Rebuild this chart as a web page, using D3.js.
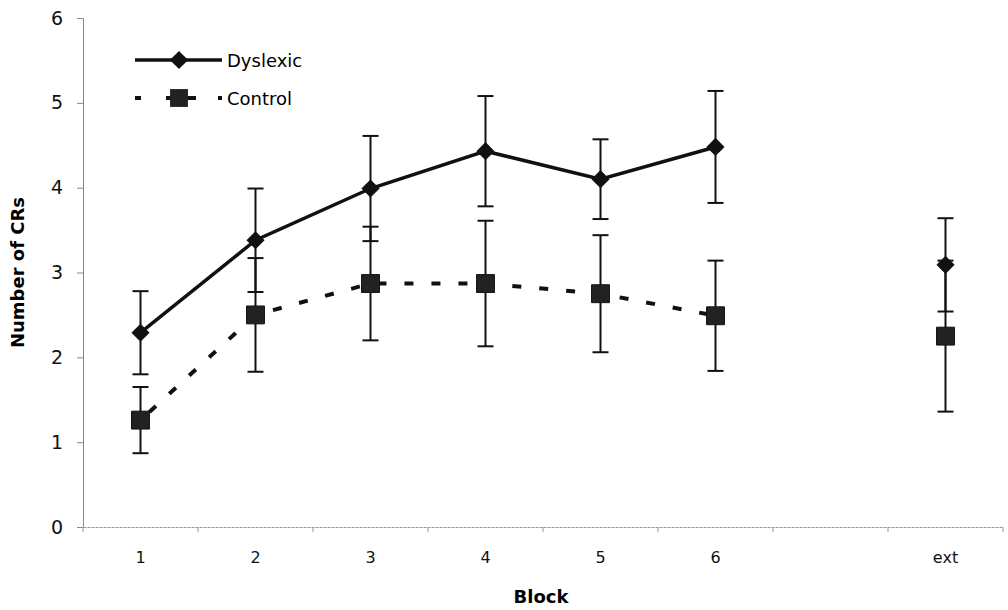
<!DOCTYPE html>
<html><head><meta charset="utf-8">
<script src="https://cdn.jsdelivr.net/npm/d3@7"></script>
<style>body{margin:0;background:#fff}svg{display:block}</style>
</head><body>
<script>
const categories = ["1","2","3","4","5","6","","ext"];
const dyslexicMean = [2.29, 3.38, 3.99, 4.43, 4.10, 4.48, null, 3.09];
const dyslexicErr  = [0.49, 0.61, 0.62, 0.65, 0.47, 0.66, null, 0.55];
const controlMean  = [1.26, 2.50, 2.87, 2.87, 2.75, 2.49, null, 2.25];
const controlErr   = [0.39, 0.67, 0.67, 0.74, 0.69, 0.65, null, 0.89];
const yTicks = [0,1,2,3,4,5,6];
const seriesNames = ["Dyslexic","Control"];

const W=1008,H=610;
const svg=d3.select("body").append("svg").attr("width",W).attr("height",H);
const x=d3.scaleBand().domain(categories.map((c,i)=>i)).range([83,1003]);
const y=d3.scaleLinear().domain([0,6]).range([527,18]);
const font="DejaVu Sans, Verdana, sans-serif";

// y axis
const ya=svg.append("g").attr("transform","translate(83,0)")
  .call(d3.axisLeft(y).tickValues(yTicks).tickFormat(d3.format("d")).tickSize(6).tickPadding(14));
ya.select(".domain").attr("stroke","#888").attr("stroke-width",1);
ya.selectAll(".tick line").attr("stroke","#888");
ya.selectAll("text").attr("font-family",font).attr("font-size",19).attr("fill","#111");

// x axis
const xa=svg.append("g").attr("transform",`translate(0,${y(0)})`)
  .call(d3.axisBottom(x).tickFormat(i=>categories[i]).tickSize(0).tickPadding(25));
xa.select(".domain").attr("stroke","#999").attr("stroke-width",1).attr("stroke-dasharray","3,1");
xa.selectAll("text").attr("font-family",font).attr("font-size",16).attr("fill","#111");
// boundary ticks
const bounds=d3.range(categories.length+1).map(i=>83+i*x.step());
svg.append("g").selectAll("line").data(bounds).join("line")
  .attr("x1",d=>d).attr("x2",d=>d).attr("y1",y(0)).attr("y2",y(0)+5)
  .attr("stroke","#999");

// titles
svg.append("text").attr("x",541).attr("y",603).attr("text-anchor","middle")
  .attr("font-family",font).attr("font-weight","bold").attr("font-size",18).text("Block");
svg.append("text").attr("transform",`translate(24,${y(3)}) rotate(-90)`).attr("text-anchor","middle")
  .attr("font-family",font).attr("font-weight","bold").attr("font-size",18).text("Number of CRs");

function pts(mean){return mean.map((v,i)=>({i,v})).filter(d=>d.v!=null);}
const line=d3.line().x(d=>x(d.i)+x.bandwidth()/2).y(d=>y(d.v));

function errbars(mean,err){
  const g=svg.append("g").attr("stroke","#111").attr("stroke-width",2);
  const d=mean.map((v,i)=>({i,v,e:err[i]})).filter(d=>d.v!=null);
  const cx=d=>x(d.i)+x.bandwidth()/2;
  g.selectAll(".v").data(d).join("line").attr("x1",cx).attr("x2",cx)
    .attr("y1",d=>y(d.v+d.e)).attr("y2",d=>y(d.v-d.e));
  g.selectAll(".t").data(d).join("line").attr("x1",d=>cx(d)-8).attr("x2",d=>cx(d)+8)
    .attr("y1",d=>y(d.v+d.e)).attr("y2",d=>y(d.v+d.e));
  g.selectAll(".b").data(d).join("line").attr("x1",d=>cx(d)-8).attr("x2",d=>cx(d)+8)
    .attr("y1",d=>y(d.v-d.e)).attr("y2",d=>y(d.v-d.e));
}
errbars(dyslexicMean,dyslexicErr);
errbars(controlMean,controlErr);

const dysPts=pts(dyslexicMean).filter(d=>d.i<6);
const conPts=pts(controlMean).filter(d=>d.i<6);
svg.append("path").datum(conPts).attr("d",line).attr("fill","none").attr("stroke","#111")
  .attr("stroke-width",4).attr("stroke-dasharray","9,18").attr("stroke-dashoffset",-12);
svg.append("path").datum(dysPts).attr("d",line).attr("fill","none").attr("stroke","#111")
  .attr("stroke-width",3.5);

const diamond=d3.symbol().type(d3.symbolDiamond2).size(210);
const square=d3.symbol().type(d3.symbolSquare).size(320);
svg.append("g").selectAll("path").data(pts(dyslexicMean)).join("path")
  .attr("d",diamond).attr("fill","#111")
  .attr("transform",d=>`translate(${x(d.i)+x.bandwidth()/2},${y(d.v)})`);
svg.append("g").selectAll("path").data(pts(controlMean)).join("path")
  .attr("d",square).attr("fill","#222").attr("stroke","#111").attr("stroke-width",1)
  .attr("transform",d=>`translate(${x(d.i)+x.bandwidth()/2},${y(d.v)})`);

// legend
const lg=svg.append("g");
lg.append("line").attr("x1",135).attr("x2",222).attr("y1",60).attr("y2",60).attr("stroke","#111").attr("stroke-width",3.5);
lg.append("path").attr("d",diamond).attr("fill","#111").attr("transform","translate(179,60)");
lg.append("line").attr("x1",135).attr("x2",222).attr("y1",98).attr("y2",98).attr("stroke","#111").attr("stroke-width",4).attr("stroke-dasharray","6,25,30,22,6");
lg.append("path").attr("d",square).attr("fill","#222").attr("transform","translate(179,98)");
lg.append("text").attr("x",227).attr("y",67).attr("font-family",font).attr("font-size",18).text(seriesNames[0]);
lg.append("text").attr("x",227).attr("y",105).attr("font-family",font).attr("font-size",18).text(seriesNames[1]);
</script>
</body></html>
